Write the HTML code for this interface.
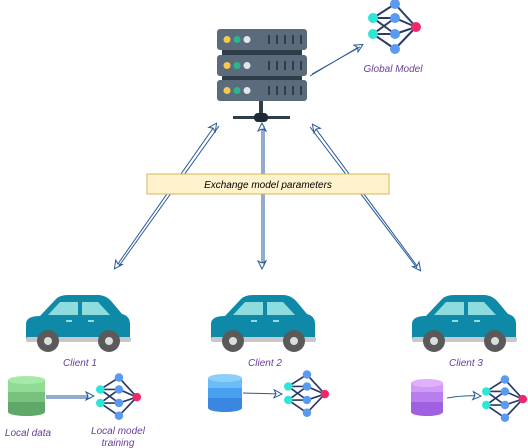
<!DOCTYPE html>
<html><head><meta charset="utf-8"><style>
body{margin:0;background:#fff;}
svg{display:block}
text{font-family:"Liberation Sans",sans-serif;font-style:italic;font-size:10px;fill:#6a3d9a}
</style></head><body>
<svg width="528" height="448" viewBox="0 0 528 448" xmlns="http://www.w3.org/2000/svg">
<defs>
<g id="car">
  <path d="M14,22 L30,5 Q34,1 42,1 H72 Q80,1 86,8 L96,20 Q104,22 104,30 V44 H0 V30 Q0,22 14,22 Z" fill="#0e8aa8"/>
  <path d="M34,8 H52 V21 H22 Z" fill="#8fdcde"/>
  <path d="M56,8 H72 L84,21 H56 Z" fill="#8fdcde"/>
  <rect x="40" y="26" width="6" height="2" fill="#8fdcde"/>
  <rect x="62" y="26" width="6" height="2" fill="#8fdcde"/>
  <rect x="0" y="43" width="105" height="5" rx="2" fill="#c8c8c8"/>
  <circle cx="22" cy="47" r="11" fill="#5a5a5a"/><circle cx="22" cy="47" r="4" fill="#ddd"/>
  <circle cx="83" cy="47" r="11" fill="#5a5a5a"/><circle cx="83" cy="47" r="4" fill="#ddd"/>
</g>
<g id="nn">
  <g stroke="#2a3a6a" stroke-width="2">
    <line x1="5" y1="17" x2="27" y2="3"/><line x1="5" y1="17" x2="27" y2="17"/><line x1="5" y1="17" x2="27" y2="33"/>
    <line x1="5" y1="33" x2="27" y2="17"/><line x1="5" y1="33" x2="27" y2="33"/><line x1="5" y1="33" x2="27" y2="48"/>
    <line x1="27" y1="3" x2="48" y2="26"/><line x1="27" y1="17" x2="48" y2="26"/><line x1="27" y1="33" x2="48" y2="26"/><line x1="27" y1="48" x2="48" y2="26"/>
  </g>
  <circle cx="5" cy="17" r="5" fill="#2ee6d6"/><circle cx="5" cy="33" r="5" fill="#2ee6d6"/>
  <circle cx="27" cy="3" r="5" fill="#5a9af0"/><circle cx="27" cy="17" r="5" fill="#5a9af0"/>
  <circle cx="27" cy="33" r="5" fill="#5a9af0"/><circle cx="27" cy="48" r="5" fill="#5a9af0"/>
  <circle cx="48" cy="26" r="5" fill="#f0286a"/>
</g>
<g id="rack">
  <rect x="0" y="0" width="90" height="21" rx="3" fill="#5b6b7b"/>
  <circle cx="10" cy="10.5" r="3.5" fill="#f6c94a"/><circle cx="20" cy="10.5" r="3.5" fill="#2bb58e"/><circle cx="30" cy="10.5" r="3.5" fill="#e0e6ea"/>
  <g stroke="#2f3d4a" stroke-width="2"><line x1="52" y1="6" x2="52" y2="15"/><line x1="60" y1="6" x2="60" y2="15"/><line x1="68" y1="6" x2="68" y2="15"/><line x1="76" y1="6" x2="76" y2="15"/><line x1="84" y1="6" x2="84" y2="15"/></g>
</g>
<marker id="ah" markerWidth="10" markerHeight="10" refX="8" refY="5" orient="auto-start-reverse" markerUnits="userSpaceOnUse">
  <path d="M1,1 L9,5 L1,9 L3,5 Z" fill="#fff" stroke="#2a5a9a" stroke-width="1"/>
</marker>
</defs>

<!-- server -->
<rect x="222" y="48" width="80" height="36" fill="#2f3d4a"/>
<use href="#rack" x="217" y="29"/>
<use href="#rack" x="217" y="55"/>
<use href="#rack" x="217" y="80"/>
<rect x="259" y="101" width="4" height="16" fill="#2f3d4a"/>
<rect x="233" y="116" width="57" height="3" fill="#2f3d4a"/>
<rect x="254" y="113" width="14" height="9" rx="4" fill="#1e2a35"/>

<use href="#nn" x="368" y="1"/>
<text x="393" y="72" text-anchor="middle">Global Model</text>

<g stroke="#2a5a9a" stroke-width="1" fill="none">
  <line x1="310" y1="76" x2="362" y2="45" marker-end="url(#ah)"/>
  <line x1="312" y1="74" x2="360" y2="47"/>
  <line x1="216" y1="124" x2="115" y2="268" marker-start="url(#ah)" marker-end="url(#ah)"/>
  <line x1="219" y1="126" x2="119" y2="266"/>
  <line x1="262" y1="124" x2="262" y2="268" marker-start="url(#ah)" marker-end="url(#ah)"/>
  <line x1="264" y1="126" x2="264" y2="266"/>
  <line x1="313" y1="125" x2="420" y2="270" marker-start="url(#ah)" marker-end="url(#ah)"/>
  <line x1="310" y1="127" x2="417" y2="268"/>
</g>

<rect x="147" y="174" width="242" height="20" fill="#fff2cc" stroke="#d6b656"/>
<text x="268" y="188" text-anchor="middle" style="fill:#000">Exchange model parameters</text>

<use href="#car" x="26" y="294"/>
<use href="#car" x="211" y="294"/>
<use href="#car" x="412" y="294"/>
<text x="80" y="366" text-anchor="middle">Client 1</text>
<text x="265" y="366" text-anchor="middle">Client 2</text>
<text x="466" y="366" text-anchor="middle">Client 3</text>

<!-- databases -->
<g>
  <rect x="8" y="380" width="37" height="32" fill="#5fa86a"/>
  <rect x="8" y="380" width="37" height="22" fill="#78c27e"/>
  <rect x="8" y="380" width="37" height="12" fill="#90dc94"/>
  <ellipse cx="26.5" cy="412" rx="18.5" ry="4" fill="#5fa86a"/>
  <ellipse cx="26.5" cy="380" rx="18.5" ry="4" fill="#a6eaa8"/>
</g>
<g>
  <rect x="208" y="378" width="34" height="30" fill="#3a86e0"/>
  <rect x="208" y="378" width="34" height="20" fill="#4aa0f0"/>
  <rect x="208" y="378" width="34" height="10" fill="#6cbcf8"/>
  <ellipse cx="225" cy="408" rx="17" ry="4" fill="#3a86e0"/>
  <ellipse cx="225" cy="378" rx="17" ry="4" fill="#8ad0fa"/>
</g>
<g>
  <rect x="411" y="383" width="32" height="29" fill="#a060e0"/>
  <rect x="411" y="383" width="32" height="19" fill="#b87ef0"/>
  <rect x="411" y="383" width="32" height="9" fill="#d09af8"/>
  <ellipse cx="427" cy="412" rx="16" ry="4" fill="#a060e0"/>
  <ellipse cx="427" cy="383" rx="16" ry="4" fill="#e0b0fa"/>
</g>

<use href="#nn" transform="translate(96,375) scale(0.85)"/>
<use href="#nn" transform="translate(284,372) scale(0.85)"/>
<use href="#nn" transform="translate(482,377) scale(0.85)"/>

<g stroke="#2a5a9a" stroke-width="1" fill="none">
  <path d="M46,396 L93,396" marker-end="url(#ah)"/>
  <path d="M46,398 L91,398"/>
  <path d="M243,393 L281,394" marker-end="url(#ah)"/>
  <path d="M447,398 Q465,395 480,396" marker-end="url(#ah)"/>
</g>

<text x="28" y="436" text-anchor="middle">Local data</text>
<text x="118" y="434" text-anchor="middle">Local model</text>
<text x="118" y="446" text-anchor="middle">training</text>
</svg>
</body></html>
